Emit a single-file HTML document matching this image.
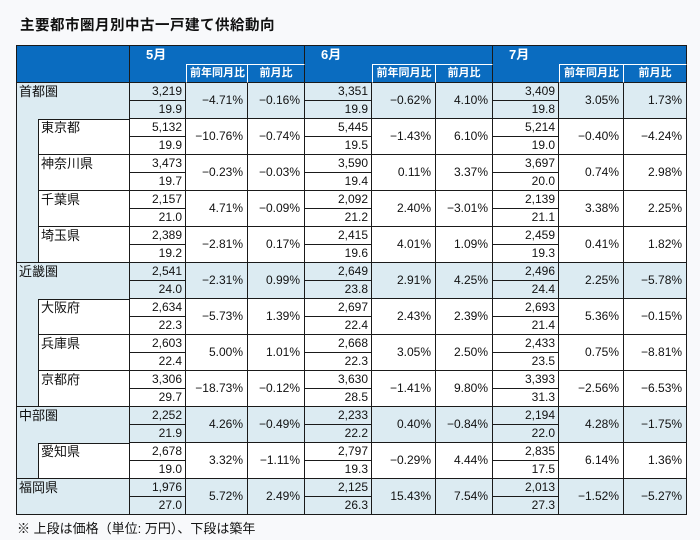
<!DOCTYPE html>
<html><head><meta charset="utf-8"><style>
html,body{margin:0;padding:0;background:#f8f9fb;width:700px;height:540px;overflow:hidden;font-family:"Liberation Sans","Noto Sans CJK JP",sans-serif;color:#111}
#title{position:absolute;left:20px;top:14px;font-size:14.5px;font-weight:bold;letter-spacing:0.5px}
#note{position:absolute;left:17px;top:518px;font-size:13px}
table{position:absolute;left:16px;top:45px;border-collapse:separate;border-spacing:0;table-layout:fixed;width:670px;border-top:1px solid #1a1a1a;border-left:1px solid #1a1a1a;font-size:12px}
td,th{box-sizing:border-box;height:18px;padding:0 3px;line-height:17px;border-right:1px solid #1a1a1a;border-bottom:1px solid #1a1a1a;white-space:nowrap;overflow:hidden}
th{background:#0a6cc0;color:#fff;font-weight:bold}
th.mo{text-align:left;padding-left:16px;font-size:13px;border-bottom:none;vertical-align:top}
th.bl{border-right:none;border-bottom:1px solid #1a1a1a}
th.sy{border-top:1px solid #fff;border-left:1px solid #fff;border-right:1px solid #fff;font-size:11px}
th.sm{border-top:1px solid #fff;font-size:11px}
th.c{border-bottom:1px solid #1a1a1a}
td{text-align:right;background:#fff}
td.nm{text-align:left;vertical-align:top;font-size:13px;padding-left:2px}
td.p{vertical-align:middle;text-align:right;padding-right:4px}
tr.r td{background:#dcebf2}
td.ind{background:#dcebf2}
td.nb{border-bottom:none}
td.ft{box-shadow:inset 0 1px #1a1a1a}
</style></head><body>
<div id="title">主要都市圏月別中古一戸建て供給動向</div>
<table>
<colgroup><col style="width:22px"><col style="width:91px"><col style="width:56px"><col style="width:62px"><col style="width:57px"><col style="width:67px"><col style="width:64px"><col style="width:57px"><col style="width:66px"><col style="width:65px"><col style="width:63px"></colgroup>
<tr><th class="c" colspan="2" rowspan="2"></th><th class="mo" colspan="3">5月</th><th class="mo" colspan="3">6月</th><th class="mo" colspan="3">7月</th></tr>
<tr><th class="bl"></th><th class="sy">前年同月比</th><th class="sm">前月比</th><th class="bl"></th><th class="sy">前年同月比</th><th class="sm">前月比</th><th class="bl"></th><th class="sy">前年同月比</th><th class="sm">前月比</th></tr>

<tr class="r"><td class="nm nb" colspan="2" rowspan="2">首都圏</td><td>3,219</td><td class="p" rowspan="2">−4.71%</td><td class="p" rowspan="2">−0.16%</td><td>3,351</td><td class="p" rowspan="2">−0.62%</td><td class="p" rowspan="2">4.10%</td><td>3,409</td><td class="p" rowspan="2">3.05%</td><td class="p" rowspan="2">1.73%</td></tr>
<tr class="r"><td>19.9</td><td>19.9</td><td>19.8</td></tr>
<tr><td class="ind" rowspan="8"></td><td class="nm ft" rowspan="2">東京都</td><td>5,132</td><td class="p" rowspan="2">−10.76%</td><td class="p" rowspan="2">−0.74%</td><td>5,445</td><td class="p" rowspan="2">−1.43%</td><td class="p" rowspan="2">6.10%</td><td>5,214</td><td class="p" rowspan="2">−0.40%</td><td class="p" rowspan="2">−4.24%</td></tr>
<tr><td>19.9</td><td>19.5</td><td>19.0</td></tr>
<tr><td class="nm" rowspan="2">神奈川県</td><td>3,473</td><td class="p" rowspan="2">−0.23%</td><td class="p" rowspan="2">−0.03%</td><td>3,590</td><td class="p" rowspan="2">0.11%</td><td class="p" rowspan="2">3.37%</td><td>3,697</td><td class="p" rowspan="2">0.74%</td><td class="p" rowspan="2">2.98%</td></tr>
<tr><td>19.7</td><td>19.4</td><td>20.0</td></tr>
<tr><td class="nm" rowspan="2">千葉県</td><td>2,157</td><td class="p" rowspan="2">4.71%</td><td class="p" rowspan="2">−0.09%</td><td>2,092</td><td class="p" rowspan="2">2.40%</td><td class="p" rowspan="2">−3.01%</td><td>2,139</td><td class="p" rowspan="2">3.38%</td><td class="p" rowspan="2">2.25%</td></tr>
<tr><td>21.0</td><td>21.2</td><td>21.1</td></tr>
<tr><td class="nm" rowspan="2">埼玉県</td><td>2,389</td><td class="p" rowspan="2">−2.81%</td><td class="p" rowspan="2">0.17%</td><td>2,415</td><td class="p" rowspan="2">4.01%</td><td class="p" rowspan="2">1.09%</td><td>2,459</td><td class="p" rowspan="2">0.41%</td><td class="p" rowspan="2">1.82%</td></tr>
<tr><td>19.2</td><td>19.6</td><td>19.3</td></tr>

<tr class="r"><td class="nm nb" colspan="2" rowspan="2">近畿圏</td><td>2,541</td><td class="p" rowspan="2">−2.31%</td><td class="p" rowspan="2">0.99%</td><td>2,649</td><td class="p" rowspan="2">2.91%</td><td class="p" rowspan="2">4.25%</td><td>2,496</td><td class="p" rowspan="2">2.25%</td><td class="p" rowspan="2">−5.78%</td></tr>
<tr class="r"><td>24.0</td><td>23.8</td><td>24.4</td></tr>
<tr><td class="ind" rowspan="6"></td><td class="nm ft" rowspan="2">大阪府</td><td>2,634</td><td class="p" rowspan="2">−5.73%</td><td class="p" rowspan="2">1.39%</td><td>2,697</td><td class="p" rowspan="2">2.43%</td><td class="p" rowspan="2">2.39%</td><td>2,693</td><td class="p" rowspan="2">5.36%</td><td class="p" rowspan="2">−0.15%</td></tr>
<tr><td>22.3</td><td>22.4</td><td>21.4</td></tr>
<tr><td class="nm" rowspan="2">兵庫県</td><td>2,603</td><td class="p" rowspan="2">5.00%</td><td class="p" rowspan="2">1.01%</td><td>2,668</td><td class="p" rowspan="2">3.05%</td><td class="p" rowspan="2">2.50%</td><td>2,433</td><td class="p" rowspan="2">0.75%</td><td class="p" rowspan="2">−8.81%</td></tr>
<tr><td>22.4</td><td>22.3</td><td>23.5</td></tr>
<tr><td class="nm" rowspan="2">京都府</td><td>3,306</td><td class="p" rowspan="2">−18.73%</td><td class="p" rowspan="2">−0.12%</td><td>3,630</td><td class="p" rowspan="2">−1.41%</td><td class="p" rowspan="2">9.80%</td><td>3,393</td><td class="p" rowspan="2">−2.56%</td><td class="p" rowspan="2">−6.53%</td></tr>
<tr><td>29.7</td><td>28.5</td><td>31.3</td></tr>

<tr class="r"><td class="nm nb" colspan="2" rowspan="2">中部圏</td><td>2,252</td><td class="p" rowspan="2">4.26%</td><td class="p" rowspan="2">−0.49%</td><td>2,233</td><td class="p" rowspan="2">0.40%</td><td class="p" rowspan="2">−0.84%</td><td>2,194</td><td class="p" rowspan="2">4.28%</td><td class="p" rowspan="2">−1.75%</td></tr>
<tr class="r"><td>21.9</td><td>22.2</td><td>22.0</td></tr>
<tr><td class="ind" rowspan="2"></td><td class="nm ft" rowspan="2">愛知県</td><td>2,678</td><td class="p" rowspan="2">3.32%</td><td class="p" rowspan="2">−1.11%</td><td>2,797</td><td class="p" rowspan="2">−0.29%</td><td class="p" rowspan="2">4.44%</td><td>2,835</td><td class="p" rowspan="2">6.14%</td><td class="p" rowspan="2">1.36%</td></tr>
<tr><td>19.0</td><td>19.3</td><td>17.5</td></tr>

<tr class="r"><td class="nm" colspan="2" rowspan="2">福岡県</td><td>1,976</td><td class="p" rowspan="2">5.72%</td><td class="p" rowspan="2">2.49%</td><td>2,125</td><td class="p" rowspan="2">15.43%</td><td class="p" rowspan="2">7.54%</td><td>2,013</td><td class="p" rowspan="2">−1.52%</td><td class="p" rowspan="2">−5.27%</td></tr>
<tr class="r"><td>27.0</td><td>26.3</td><td>27.3</td></tr>
</table>
<div id="note">※ 上段は価格（単位: 万円）、下段は築年</div>
</body></html>
